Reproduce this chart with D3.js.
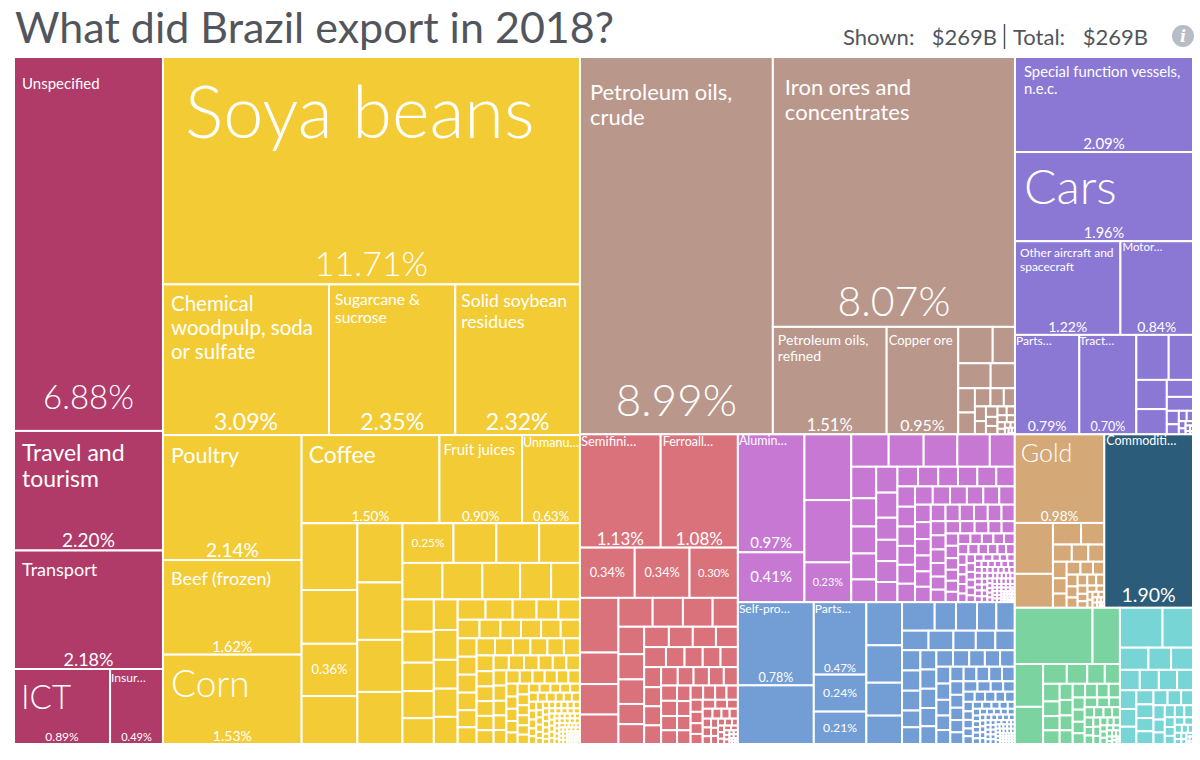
<!DOCTYPE html>
<html>
<head>
<meta charset="utf-8">
<title>What did Brazil export in 2018?</title>
<script src="https://cdn.jsdelivr.net/npm/d3@7"></script>
<style>
  body { margin: 0; background: #fff; }
  svg { display: block; font-family: Lato, "Source Sans Pro", "Open Sans", sans-serif; }
  .cell { stroke: #fff; stroke-width: 2; }
  .lbl { fill: #fff; pointer-events: none; }
  .head { fill: #52565c; }
</style>
</head>
<body>
<svg width="1200" height="760"></svg>
<script>
// share of Brazil's 2018 exports (% of $269B)
const title = "What did Brazil export in 2018?";
const shownValue = "$269B";
const totalValue = "$269B";

// labelled products per sector ("" = only the share is printed)
const services = [
  ["Unspecified", 6.88], ["Travel and tourism", 2.20], ["Transport", 2.18],
  ["ICT", 0.89], ["Insur…", 0.49]
];
const agriculture = [
  ["Soya beans", 11.71], ["Chemical woodpulp, soda or sulfate", 3.09],
  ["Sugarcane & sucrose", 2.35], ["Solid soybean residues", 2.32],
  ["Poultry", 2.14], ["Beef (frozen)", 1.62], ["Corn", 1.53], ["Coffee", 1.50],
  ["Fruit juices", 0.90], ["Unmanu…", 0.63], ["", 0.36], ["", 0.25]
];
const minerals = [
  ["Petroleum oils, crude", 8.99], ["Iron ores and concentrates", 8.07],
  ["Petroleum oils, refined", 1.51], ["Copper ore", 0.95]
];
const vehicles = [
  ["Special function vessels, n.e.c.", 2.09], ["Cars", 1.96],
  ["Other aircraft and spacecraft", 1.22], ["Motor…", 0.84],
  ["Parts…", 0.79], ["Tract…", 0.70]
];
const metals = [["Semifini…", 1.13], ["Ferroall…", 1.08], ["", 0.34], ["", 0.34], ["", 0.30]];
const chemicals = [["Alumin…", 0.97], ["", 0.41], ["", 0.23]];
const machinery = [["Self-pro…", 0.78], ["Parts…", 0.47], ["", 0.24], ["", 0.21]];
const stone = [["Gold", 0.98]];
const other = [["Commoditi…", 1.90]];

// unlabelled smaller products per sector
const agricultureRest = [
  0.46, 0.37, 0.33, 0.33, 0.32, 0.29, 0.29, 0.21, 0.21, 0.20,
  0.18, 0.18, 0.17, 0.14, 0.13, 0.125, 0.12, 0.11, 0.105, 0.10,
  0.09, 0.088, 0.085, 0.083, 0.08, 0.07, 0.068, 0.06, 0.055, 0.054,
  0.05, 0.048, 0.047, 0.046, 0.045, 0.044, 0.043, 0.042, 0.042, 0.041,
  0.04, 0.039, 0.039, 0.038, 0.037, 0.036, 0.035, 0.034, 0.033, 0.032,
  0.031, 0.031, 0.03, 0.029, 0.028, 0.028, 0.027, 0.026, 0.025, 0.025,
  0.024, 0.024, 0.023, 0.023, 0.022, 0.022, 0.021, 0.02, 0.02, 0.019,
  0.019, 0.018, 0.017, 0.017, 0.016, 0.016, 0.015, 0.015, 0.014, 0.014,
  0.013, 0.013, 0.012, 0.012, 0.011, 0.011, 0.011, 0.01, 0.01, 0.01,
  0.009, 0.009, 0.009, 0.008, 0.008, 0.008, 0.007, 0.007, 0.007, 0.006,
  0.006, 0.006, 0.005, 0.005, 0.005, 0.005, 0.005, 0.005, 0.005, 0.005,
  0.005, 0.005, 0.005, 0.005, 0.004, 0.004, 0.004, 0.004, 0.004, 0.004,
  0.004, 0.004, 0.004, 0.004, 0.004, 0.004, 0.003, 0.003, 0.003, 0.003,
  0.003, 0.003, 0.003, 0.003, 0.003, 0.003, 0.003, 0.003, 0.003, 0.003,
  0.003, 0.002, 0.002, 0.002, 0.002, 0.002, 0.002, 0.002, 0.002, 0.002,
  0.002, 0.002, 0.002, 0.002, 0.002, 0.002, 0.001, 0.001, 0.001, 0.001,
  0.001, 0.001, 0.001, 0.001, 0.001, 0.001, 0.001, 0.001, 0.001, 0.001,
  0.001, 0.001, 0.001, 0.001, 0.001, 0.001
];
const mineralsRest = [
  0.155, 0.10, 0.10, 0.075, 0.05, 0.045, 0.035, 0.03, 0.025, 0.02,
  0.018, 0.015, 0.013, 0.012, 0.01, 0.009, 0.008, 0.007, 0.006, 0.005,
  0.004, 0.003, 0.003, 0.002, 0.002, 0.001
];
const vehiclesRest = [
  0.18, 0.135, 0.11, 0.095, 0.055, 0.045, 0.02, 0.015, 0.01, 0.008,
  0.006, 0.005, 0.004, 0.003, 0.002, 0.002, 0.001
];
const metalsRest = [
  0.26, 0.15, 0.145, 0.14, 0.122, 0.108, 0.106, 0.09, 0.087, 0.08,
  0.078, 0.064, 0.063, 0.062, 0.06, 0.058, 0.055, 0.054, 0.046, 0.045,
  0.044, 0.043, 0.042, 0.04, 0.04, 0.039, 0.038, 0.036, 0.035, 0.034,
  0.032, 0.03, 0.03, 0.028, 0.027, 0.026, 0.025, 0.024, 0.023, 0.022,
  0.021, 0.02, 0.02, 0.018, 0.017, 0.016, 0.015, 0.014, 0.013, 0.012,
  0.012, 0.011, 0.01, 0.01, 0.009, 0.009, 0.008, 0.008, 0.007, 0.007,
  0.006, 0.006, 0.005, 0.005, 0.005, 0.004, 0.004, 0.004, 0.003, 0.003,
  0.003, 0.002, 0.002, 0.002, 0.002, 0.001, 0.001, 0.001, 0.001, 0.001, 0.001
];
const chemicalsRest = [
  0.38, 0.36, 0.15, 0.14, 0.135, 0.13, 0.10, 0.097, 0.087, 0.083,
  0.08, 0.07, 0.068, 0.066, 0.058, 0.056, 0.055, 0.053, 0.05, 0.049,
  0.048, 0.047, 0.046, 0.045, 0.044, 0.043, 0.042, 0.041, 0.041, 0.04,
  0.04, 0.039, 0.038, 0.037, 0.036, 0.035, 0.034, 0.033, 0.032, 0.031,
  0.03, 0.03, 0.03, 0.029, 0.029, 0.028, 0.028, 0.027, 0.026, 0.026,
  0.025, 0.025, 0.024, 0.023, 0.022, 0.022, 0.021, 0.02, 0.02, 0.019,
  0.019, 0.018, 0.017, 0.017, 0.016, 0.016, 0.015, 0.015, 0.014, 0.014,
  0.013, 0.013, 0.012, 0.012, 0.011, 0.011, 0.011, 0.01, 0.01, 0.01,
  0.009, 0.009, 0.009, 0.008, 0.008, 0.008, 0.007, 0.007, 0.007, 0.006,
  0.006, 0.006, 0.005, 0.005, 0.005, 0.005, 0.005, 0.005, 0.005, 0.005,
  0.005, 0.005, 0.005, 0.005, 0.004, 0.004, 0.004, 0.004, 0.004, 0.004,
  0.004, 0.004, 0.004, 0.004, 0.004, 0.004, 0.003, 0.003, 0.003, 0.003,
  0.003, 0.003, 0.003, 0.003, 0.003, 0.003, 0.003, 0.003, 0.003, 0.003,
  0.003, 0.002, 0.002, 0.002, 0.002, 0.002, 0.002, 0.002, 0.002, 0.002,
  0.002, 0.002, 0.002, 0.002, 0.002, 0.002, 0.001, 0.001, 0.001, 0.001,
  0.001, 0.001, 0.001, 0.001, 0.001, 0.001, 0.001, 0.001, 0.001, 0.001,
  0.001, 0.001, 0.001, 0.001, 0.001, 0.001
];
const machineryRest = [
  0.55, 0.19, 0.165, 0.145, 0.125, 0.115, 0.075, 0.074, 0.068, 0.065,
  0.064, 0.06, 0.054, 0.047, 0.047, 0.046, 0.046, 0.045, 0.038, 0.038,
  0.038, 0.038, 0.038, 0.036, 0.035, 0.034, 0.033, 0.032, 0.031, 0.03,
  0.029, 0.028, 0.027, 0.025, 0.024, 0.024, 0.023, 0.023, 0.023, 0.023,
  0.022, 0.021, 0.02, 0.02, 0.019, 0.018, 0.017, 0.016, 0.015, 0.014,
  0.013, 0.013, 0.012, 0.012, 0.011, 0.01, 0.01, 0.009, 0.009, 0.008,
  0.008, 0.007, 0.007, 0.006, 0.006, 0.005, 0.005, 0.005, 0.005, 0.005,
  0.005, 0.005, 0.005, 0.005, 0.005, 0.004, 0.004, 0.004, 0.004, 0.004,
  0.004, 0.004, 0.004, 0.004, 0.004, 0.003, 0.003, 0.003, 0.003, 0.003,
  0.003, 0.003, 0.003, 0.003, 0.003, 0.003, 0.003, 0.002, 0.002, 0.002,
  0.002, 0.002, 0.002, 0.002, 0.002, 0.002, 0.002, 0.002, 0.002, 0.002,
  0.002, 0.002, 0.001, 0.001, 0.001, 0.001, 0.001, 0.001, 0.001, 0.001,
  0.001, 0.001, 0.001, 0.001, 0.001, 0.001, 0.001, 0.001, 0.001, 0.001,
  0.001, 0.001
];
const stoneRest = [
  0.24, 0.16, 0.075, 0.062, 0.04, 0.035, 0.034, 0.028, 0.026, 0.024,
  0.022, 0.02, 0.018, 0.016, 0.015, 0.014, 0.013, 0.012, 0.011, 0.01,
  0.009, 0.008, 0.007, 0.006, 0.005, 0.005, 0.004, 0.004, 0.003, 0.003,
  0.002, 0.002, 0.002, 0.001, 0.001, 0.001
];
const textilesRest = [
  0.54, 0.19, 0.15, 0.13, 0.058, 0.05, 0.043, 0.037, 0.036, 0.03,
  0.029, 0.028, 0.026, 0.025, 0.024, 0.022, 0.021, 0.02, 0.02, 0.019,
  0.018, 0.018, 0.017, 0.016, 0.015, 0.014, 0.013, 0.012, 0.012, 0.011,
  0.01, 0.01, 0.009, 0.009, 0.008, 0.008, 0.007, 0.007, 0.006, 0.006,
  0.005, 0.005, 0.005, 0.004, 0.004, 0.004, 0.003, 0.003, 0.003, 0.002,
  0.002, 0.002, 0.001, 0.001, 0.001
];
const electronicsRest = [
  0.21, 0.15, 0.078, 0.062, 0.06, 0.05, 0.048, 0.046, 0.04, 0.038,
  0.036, 0.035, 0.03, 0.029, 0.028, 0.027, 0.026, 0.025, 0.022, 0.02,
  0.018, 0.016, 0.015, 0.014, 0.013, 0.012, 0.011, 0.01, 0.009, 0.008,
  0.007, 0.006, 0.005, 0.005, 0.004, 0.004, 0.003, 0.003, 0.002, 0.002,
  0.001, 0.001
];

const sectorColor = {
  Services: "#b03a68", Agriculture: "#f3cc35", Minerals: "#b9978b",
  Vehicles: "#8b78d5", Metals: "#da727b", Chemicals: "#c678d3",
  Machinery: "#739ed5", Stone: "#d5a977", Other: "#2b5c79",
  Textiles: "#7bd49f", Electronics: "#78d5d6"
};

// [name size, share size, name baseline from top, share baseline from bottom, left pad]
const labelStyle = {
  Services: {
    "Unspecified": [15, 33, 32, 22, 8], "Travel and tourism": [23, 19, 30, 4, 8],
    "Transport": [18, 18, 25, 3, 8], "ICT": [33, 12, 40, 3, 7], "Insur…": [12, 11, 13, 3, 1]
  },
  Agriculture: {
    "Soya beans": [72, 34, 81, 8, 22], "Chemical woodpulp, soda or sulfate": [20.5, 23, 27, 5, 8],
    "Sugarcane & sucrose": [15.5, 23, 21, 5, 6], "Solid soybean residues": [17.5, 23, 23, 5, 6],
    "Poultry": [21.5, 19, 28, 3, 8], "Beef (frozen)": [18, 14.5, 25, 3, 8],
    "Corn": [37, 14, 42, 3, 8], "Coffee": [23, 13.5, 28, 2, 7],
    "Fruit juices": [15, 13.5, 20, 2, 4], "Unmanu…": [12.5, 13, 12, 2, 1]
  },
  Minerals: {
    "Petroleum oils, crude": [22, 44, 43, 18, 10], "Iron ores and concentrates": [22, 41, 38, 11, 12],
    "Petroleum oils, refined": [14, 16.5, 18, 3, 5], "Copper ore": [13, 16, 18, 3, 2]
  },
  Vehicles: {
    "Special function vessels, n.e.c.": [14.8, 15, 20, 3, 9], "Cars": [48, 14.5, 52, 3, 9],
    "Other aircraft and spacecraft": [12, 14, 16, 3, 5], "Motor…": [11.5, 14, 10, 3, 2],
    "Parts…": [12, 14, 10, 3, 1], "Tract…": [12, 12.5, 10, 3, 0]
  },
  Metals: { "Semifini…": [13, 17, 12, 3, 1], "Ferroall…": [12.5, 17, 12, 3, 2] },
  Chemicals: { "Alumin…": [12.5, 15, 11, 4, 1] },
  Machinery: { "Self-pro…": [12, 12.5, 11, 3, 1], "Parts…": [12, 11.5, 11, 3, 1] },
  Stone: { "Gold": [25, 13.5, 28, 2, 6] },
  Other: { "Commoditi…": [12.5, 19.5, 11, 6, 2] }
};

function sector(key, named, rest) {
  return {
    name: key,
    children: named.map(([name, value]) => ({ name, value, sector: key }))
      .concat(rest.map(value => ({ value, sector: key })))
  };
}

const data = {
  children: [
    sector("Services", services, []),
    sector("Agriculture", agriculture, agricultureRest),
    {
      name: "rest", children: [
        sector("Minerals", minerals, mineralsRest),
        sector("Vehicles", vehicles, vehiclesRest),
        sector("Metals", metals, metalsRest),
        sector("Chemicals", chemicals, chemicalsRest),
        sector("Machinery", machinery, machineryRest),
        sector("Stone", stone, stoneRest),
        sector("Other", other, []),
        sector("Textiles", [], textilesRest),
        sector("Electronics", [], electronicsRest)
      ]
    }
  ]
};

const svg = d3.select("svg");
const width = 1179, height = 687;

const squarify = d3.treemapSquarify.ratio(1);
const treemap = d3.treemap()
  .size([width, height])
  .tile(function (node, x0, y0, x1, y1) {
    // services and agriculture run full height, the rest is squarified
    if (node.depth === 0) d3.treemapDice(node, x0, y0, x1, y1);
    else squarify(node, x0, y0, x1, y1);
  });

const root = d3.hierarchy(data)
  .sum(d => d.children ? 0 : d.value)
  .sort((a, b) => a.depth === 1 ? 0 : b.value - a.value);
treemap(root);

const map = svg.append("g").attr("transform", "translate(14,57)");

map.selectAll("rect")
  .data(root.leaves())
  .join("rect")
  .attr("class", "cell")
  .attr("x", d => d.x0)
  .attr("y", d => d.y0)
  .attr("width", d => d.x1 - d.x0)
  .attr("height", d => d.y1 - d.y0)
  .attr("fill", d => sectorColor[d.data.sector]);

const labels = map.append("g");

function drawName(d, st) {
  const fs = st[0], pad = st[4];
  const x = d.x0 + pad, maxW = d.x1 - d.x0 - pad - 3;
  const text = labels.append("text")
    .attr("class", "lbl")
    .attr("y", d.y0 + st[2])
    .attr("font-size", fs)
    .attr("font-weight", fs >= 24 ? 300 : 400);
  let line = [];
  let tspan = text.append("tspan").attr("x", x);
  d.data.name.split(" ").forEach(function (w) {
    line.push(w);
    tspan.text(line.join(" "));
    if (line.length > 1 && tspan.node().getComputedTextLength() > maxW) {
      line.pop();
      tspan.text(line.join(" "));
      line = [w];
      tspan = text.append("tspan").attr("x", x).attr("dy", fs * 1.15).text(w);
    }
  });
}

root.leaves().filter(d => d.data.name !== undefined).forEach(function (d) {
  const st = (labelStyle[d.data.sector] || {})[d.data.name];
  const share = d.data.value.toFixed(2) + "%";
  const cx = (d.x0 + d.x1) / 2;
  if (st) {
    drawName(d, st);
    labels.append("text")
      .attr("class", "lbl")
      .attr("x", cx)
      .attr("y", d.y1 - st[3])
      .attr("text-anchor", "middle")
      .attr("font-size", st[1])
      .attr("font-weight", st[1] >= 24 ? 300 : 400)
      .text(share);
  } else {
    labels.append("text")
      .attr("class", "lbl")
      .attr("x", cx)
      .attr("y", (d.y0 + d.y1) / 2)
      .attr("dy", "0.35em")
      .attr("text-anchor", "middle")
      .attr("font-size", Math.min(15, (d.x1 - d.x0) / 4.3))
      .text(share);
  }
});

// header
svg.append("text")
  .attr("class", "head")
  .attr("x", 15)
  .attr("y", 43)
  .attr("font-size", 43)
  .text(title);

const head = svg.append("g").attr("font-size", 22);
head.append("text").attr("class", "head").attr("x", 843).attr("y", 45).text("Shown:");
head.append("text").attr("class", "head").attr("x", 997).attr("y", 45)
  .attr("text-anchor", "end").text(shownValue);
head.append("line")
  .attr("x1", 1004.5).attr("x2", 1004.5).attr("y1", 24).attr("y2", 49)
  .attr("stroke", "#52565c").attr("stroke-width", 1.5);
head.append("text").attr("class", "head").attr("x", 1013).attr("y", 45).text("Total:");
head.append("text").attr("class", "head").attr("x", 1148).attr("y", 45)
  .attr("text-anchor", "end").text(totalValue);

svg.append("circle")
  .attr("cx", 1183).attr("cy", 36).attr("r", 11)
  .attr("fill", "#b8bcc4");
svg.append("text")
  .attr("x", 1183).attr("y", 42)
  .attr("text-anchor", "middle")
  .attr("font-family", "DejaVu Serif, serif")
  .attr("font-style", "italic")
  .attr("font-weight", "bold")
  .attr("font-size", 16)
  .attr("fill", "#fff")
  .text("i");
</script>
</body>
</html>
